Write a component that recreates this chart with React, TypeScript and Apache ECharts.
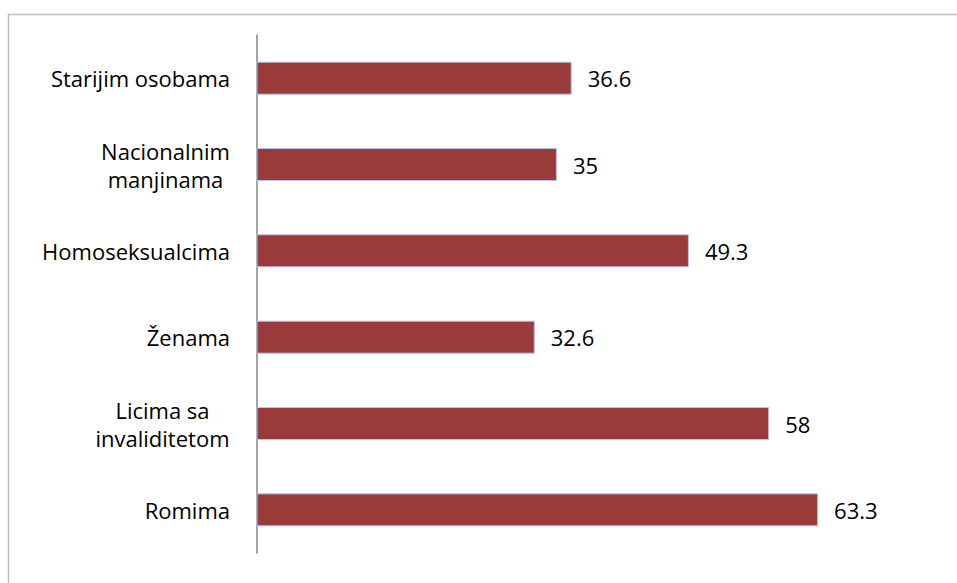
import React, { useEffect, useRef } from "react";
import * as echarts from "echarts";

const categories = [
  "Romima",
  "Licima sa\ninvaliditetom",
  "Ženama",
  "Homoseksualcima",
  "Nacionalnim\nmanjinama",
  "Starijim osobama",
];
const values = [63.3, 58, 32.6, 49.3, 35, 36.6];

const FONT = "Open Sans";
const FS = 22;
const LH = 28;

export default function App() {
  const ref = useRef<HTMLDivElement>(null);
  useEffect(() => {
    if (!ref.current) return;
    const chart = echarts.init(ref.current, null, { renderer: "svg" });
    const canvas = document.createElement("canvas");
    const ctx = canvas.getContext("2d")!;
    ctx.font = `${FS}px "${FONT}"`;
    const rich: Record<string, any> = {};
    const fmtMap: Record<string, string> = {};
    categories.forEach((c, i) => {
      const lines = c.split("\n");
      if (lines.length > 1) {
        const w = Math.max(...lines.map((l) => ctx.measureText(l).width));
        const key = "l" + i;
        rich[key] = { width: Math.ceil(w), align: "center", fontSize: FS, fontFamily: FONT, color: "#000", lineHeight: LH };
        fmtMap[c] = lines.map((l) => `{${key}|${l}}`).join("\n");
      } else {
        fmtMap[c] = c;
      }
    });
    chart.setOption({
      animation: false,
      graphic: [
        {
          type: "rect",
          shape: { x: 8.5, y: 14.5, width: 2000, height: 2000 },
          style: { fill: "none", stroke: "#bfbfbf", lineWidth: 1.5 },
          silent: true,
        },
      ],
      grid: { left: 257, top: 35, bottom: 30, right: 54, containLabel: false },
      xAxis: {
        type: "value",
        min: 2.5,
        max: 72.5,
        show: false,
        splitLine: { show: false },
      },
      yAxis: {
        type: "category",
        data: categories,
        axisLine: { show: true, lineStyle: { color: "#868686", width: 1.5 } },
        axisTick: { show: false },
        axisLabel: {
          margin: 27,
          fontSize: FS,
          fontFamily: FONT,
          color: "#000",
          lineHeight: LH,
          formatter: (v: string) => fmtMap[v] ?? v,
          rich,
        },
      },
      series: [
        {
          type: "bar",
          data: values,
          barWidth: 33,
          itemStyle: { color: "#9a3a3a", borderColor: "#b8c4ea", borderWidth: 1 },
          label: {
            show: true,
            position: "right",
            distance: 16,
            fontSize: FS,
            fontFamily: FONT,
            color: "#000",
          },
        },
      ],
    });
    return () => chart.dispose();
  }, []);
  return (
    <div
      ref={ref}
      style={{ position: "absolute", left: 0, top: 0, width: 957, height: 583 }}
    />
  );
}
